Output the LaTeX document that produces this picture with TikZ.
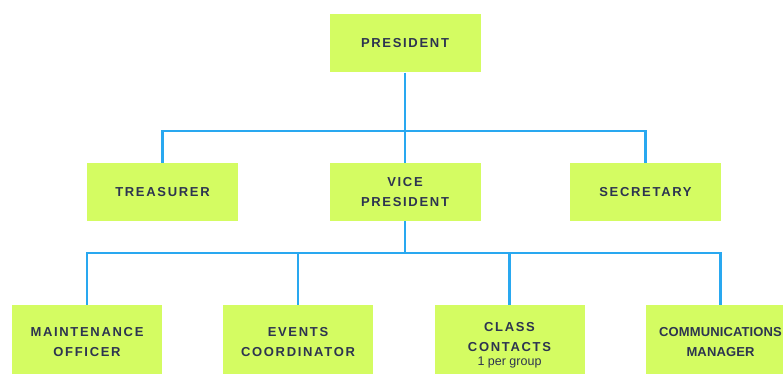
\documentclass[tikz,border=0pt]{standalone}
\usepackage{fontspec}
\setmainfont{Liberation Sans}
\newfontfamily\spaced[LetterSpace=13]{Liberation Sans}
\newfontfamily\lspaced[LetterSpace=1]{Liberation Sans}
\definecolor{boxgreen}{RGB}{212,252,98}
\definecolor{linkblue}{RGB}{41,168,240}
\definecolor{txt}{RGB}{45,52,80}
\tikzset{
  role/.style={rectangle, fill=boxgreen, minimum width=151pt, minimum height=58pt,
    inner sep=0pt, align=center, text=txt, font=\spaced\bfseries\fontsize{13}{20}\selectfont},
  lowrole/.style={role, minimum width=150pt, minimum height=74pt},
  link/.style={draw=linkblue, line width=2.8pt}
}
\begin{document}
\begin{tikzpicture}[x=1pt,y=-1pt]
\useasboundingbox (0,0) rectangle (783,374);
\clip (0,0) rectangle (783,374);
\node[role] (pres) at (405,43.5) {PRESIDENT};
\node[role] (tre) at (162.5,192) {TREASURER};
\node[role] (vp) at (405,192) {VICE\\PRESIDENT};
\node[role] (sec) at (645.5,192) {SECRETARY};
\node[lowrole] (mo) at (87,342) {MAINTENANCE\\OFFICER};
\node[lowrole] (ec) at (298,342) {EVENTS\\COORDINATOR};
\node[lowrole, minimum height=80pt] (cc) at (509.5,345) {CLASS\\CONTACTS\\[-6pt]{\normalfont\fontsize{12.5}{13}\selectfont 1 per group}};
\node[lowrole, font=\lspaced\bfseries\fontsize{13}{20}\selectfont] (cm) at (720.5,342) {COMMUNICATIONS\\MANAGER};
\coordinate (h1) at (405,131);
\coordinate (h2) at (405,253);
\draw[link] (pres.south) -- (pres.south |- vp.north);
\draw[link] (tre.north) -- (tre.north |- h1) -- (sec.north |- h1) -- (sec.north);
\draw[link] (vp.south) -- (vp.south |- h2);
\draw[link] (mo.north) -- (mo.north |- h2) -- (cm.north |- h2) -- (cm.north);
\draw[link] (ec.north) -- (ec.north |- h2);
\draw[link] (cc.north) -- (cc.north |- h2);
\end{tikzpicture}
\end{document}
